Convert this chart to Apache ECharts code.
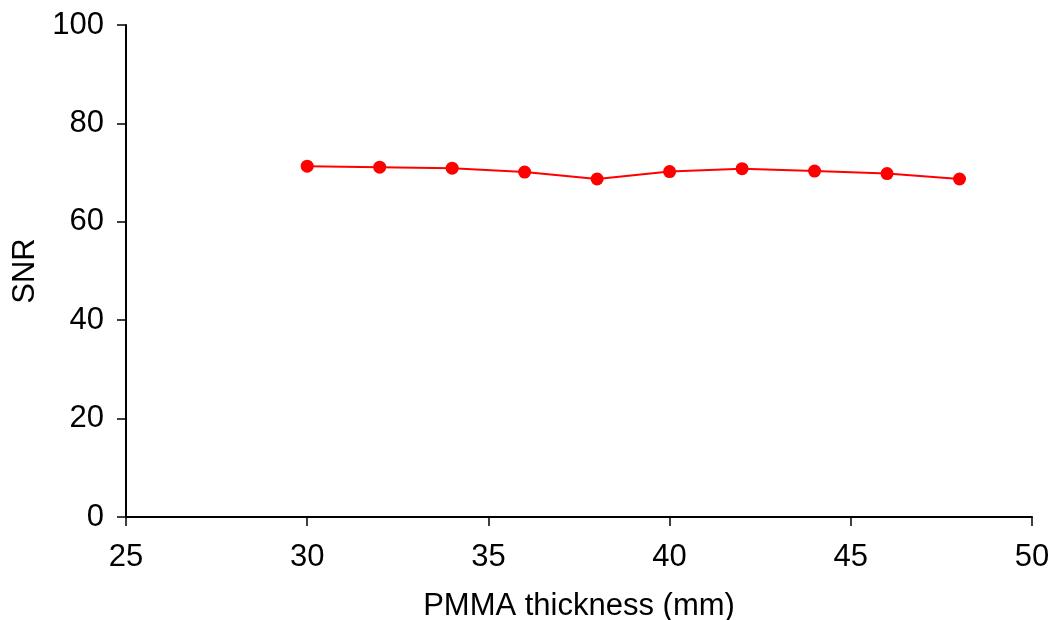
<!DOCTYPE html>
<html><head><meta charset="utf-8">
<script src="https://cdn.jsdelivr.net/npm/echarts@6/dist/echarts.min.js"></script>
<style>html,body{margin:0;padding:0;background:#fff}#c{width:1055px;height:620px}</style>
</head><body><div id="c"></div>
<script>
var thickness = [30, 32, 34, 36, 38, 40, 42, 44, 46, 48];
var snr = [71.3, 71.1, 70.9, 70.1, 68.7, 70.2, 70.8, 70.3, 69.8, 68.7];
var chart = echarts.init(document.getElementById('c'));
var font = 'Liberation Sans, Arial, sans-serif';
chart.setOption({
  animation: false,
  backgroundColor: '#fff',
  grid: {left: 126, right: 23, top: 25, bottom: 103, containLabel: false, outerBoundsMode: 'none'},
  xAxis: {
    type: 'value', min: 25, max: 50, interval: 5,
    name: 'PMMA thickness (mm)', nameLocation: 'middle', nameGap: 74,
    nameTextStyle: {fontFamily: font, fontSize: 31, color: '#000'},
    axisLine: {lineStyle: {color: '#000', width: 2}},
    axisTick: {show: true, length: 9, lineStyle: {color: '#000', width: 1.5}},
    axisLabel: {fontFamily: font, fontSize: 31, color: '#000', margin: 25},
    splitLine: {show: false}
  },
  yAxis: {
    type: 'value', min: 0, max: 100, interval: 20,
    name: 'SNR', nameLocation: 'middle', nameGap: 85, nameRotate: 90,
    nameTextStyle: {fontFamily: font, fontSize: 31, color: '#000'},
    axisLine: {show: true, lineStyle: {color: '#000', width: 2}},
    axisTick: {show: true, length: 9, lineStyle: {color: '#000', width: 1.5}},
    axisLabel: {fontFamily: font, fontSize: 31, color: '#000', margin: 22},
    splitLine: {show: false}
  },
  series: [{
    type: 'line',
    data: thickness.map(function (t, i) { return [t, snr[i]]; }),
    symbol: 'circle', symbolSize: 13,
    lineStyle: {color: '#ff0000', width: 2},
    itemStyle: {color: '#ff0000'}
  }]
});
</script></body></html>
